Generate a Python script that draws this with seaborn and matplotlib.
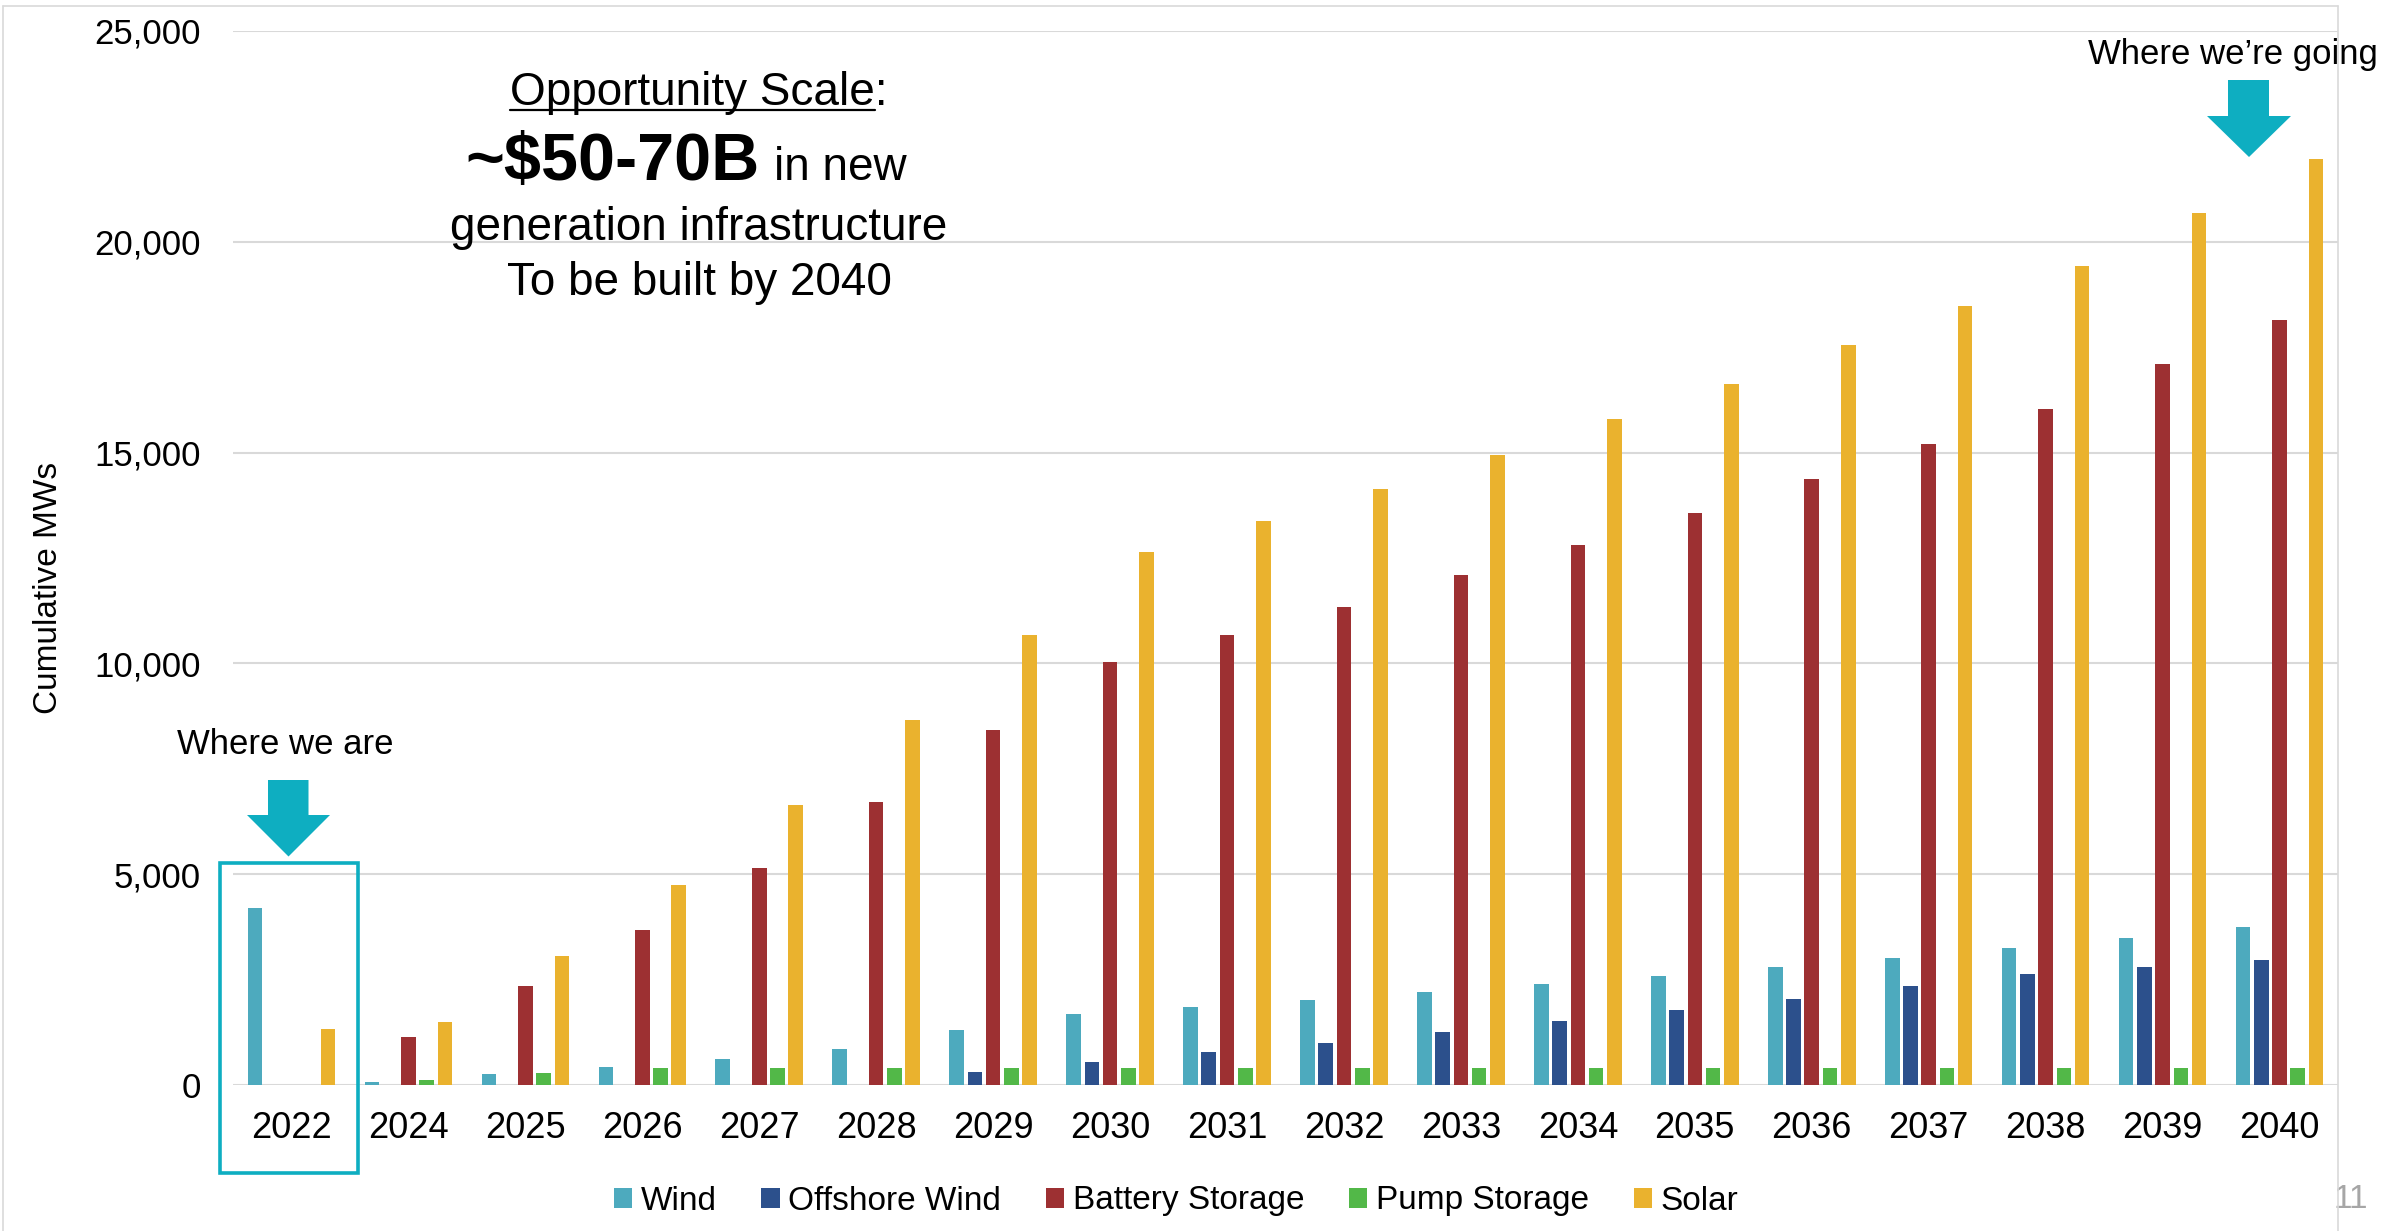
import numpy as np
import pandas as pd
import matplotlib
matplotlib.use("Agg")
import matplotlib.pyplot as plt
from matplotlib.patches import Polygon, Rectangle
from matplotlib.lines import Line2D
import seaborn as sns

# ---- data (cumulative MW by year) ----
years = ["2022", "2024", "2025", "2026", "2027", "2028", "2029", "2030", "2031",
         "2032", "2033", "2034", "2035", "2036", "2037", "2038", "2039", "2040"]
wind = [4210, 80, 255, 420, 610, 865, 1295, 1675, 1840, 2005, 2205, 2395, 2585,
        2800, 3010, 3240, 3495, 3750]
offshore_wind = [0, 0, 0, 0, 0, 0, 300, 555, 785, 990, 1250, 1520, 1775, 2050,
                 2345, 2625, 2800, 2970]
battery_storage = [0, 1140, 2355, 3670, 5145, 6705, 8420, 10035, 10680, 11345,
                   12100, 12815, 13560, 14380, 15195, 16030, 17095, 18145]
pump_storage = [0, 125, 280, 405, 405, 405, 405, 405, 405, 405, 405, 405, 405,
                405, 405, 405, 405, 405]
solar = [1335, 1505, 3050, 4750, 6640, 8650, 10680, 12645, 13385, 14130, 14945,
         15800, 16625, 17560, 18485, 19420, 20690, 21960]

series_names = ["Wind", "Offshore Wind", "Battery Storage", "Pump Storage", "Solar"]
series_colors = ["#4DAABE", "#2C508C", "#9D3032", "#52B848", "#EAB22E"]
y_ticks = [0, 5000, 10000, 15000, 20000, 25000]

ACCENT = "#0EAEC1"
W, H = 2392, 1231

sns.set_theme(style="white")
plt.rcParams["font.family"] = ["Liberation Sans", "DejaVu Sans"]
plt.rcParams["text.color"] = "black"

df = pd.DataFrame({
    "Year": years * len(series_names),
    "MW": wind + offshore_wind + battery_storage + pump_storage + solar,
    "Type": np.repeat(series_names, len(years)),
})


def fx(px):
    return px / W


def fy(py):
    return 1 - py / H


fig = plt.figure(figsize=(W / 100, H / 100), dpi=100)
ax = fig.add_axes([fx(233), fy(1085), (2338 - 233) / W, (1085 - 31) / H])

sns.barplot(data=df, x="Year", y="MW", hue="Type", order=years,
            hue_order=series_names, palette=dict(zip(series_names, series_colors)),
            width=0.78, gap=0.2, errorbar=None, saturation=1, linewidth=0, ax=ax)

ax.set_xlim(-0.5, len(years) - 0.5)
ax.set_ylim(0, 25000)
ax.set_yticks(y_ticks)
ax.set_yticklabels([f"{v:,}" for v in y_ticks])
ax.yaxis.grid(True, color="#D9D9D9", linewidth=1.5)
ax.set_axisbelow(True)
for s in ax.spines.values():
    s.set_visible(False)
ax.set_xlabel("")
ax.set_ylabel("")
ax.tick_params(axis="y", labelsize=25, length=0, pad=23, labelcolor="black")
ax.tick_params(axis="x", labelsize=26, length=0, pad=19, labelcolor="black")

handles, labels = ax.get_legend_handles_labels()
ax.get_legend().remove()
fig.legend(handles, labels, loc="center", bbox_to_anchor=(fx(1176), fy(1201)),
           ncol=5, frameon=False, fontsize=24, handlelength=0.55,
           handleheight=0.55, handletextpad=0.25, columnspacing=1.35,
           labelcolor="black")

fig.text(fx(49), fy(588), "Cumulative MWs", rotation=90, ha="center",
         va="center", fontsize=24)

# headline block
cx = 699
t1 = fig.text(fx(cx), fy(105), "Opportunity Scale:", ha="center", va="baseline",
              fontsize=33)
fig.text(fx(760), fy(180), "~$50-70B", ha="right", va="baseline", fontsize=48,
         fontweight="bold")
fig.text(fx(774), fy(180), "in new", ha="left", va="baseline", fontsize=33)
fig.text(fx(cx), fy(240), "generation infrastructure", ha="center",
         va="baseline", fontsize=33)
fig.text(fx(cx), fy(295), "To be built by 2040", ha="center", va="baseline",
         fontsize=33)

# underline the "Opportunity Scale" part of the first line
fig.canvas.draw()
renderer = fig.canvas.get_renderer()
bb = t1.get_window_extent(renderer)
colon = fig.text(0, 0, ":", fontsize=33)
cw = colon.get_window_extent(renderer).width
colon.remove()
fig.add_artist(Line2D([fx(bb.x0), fx(bb.x1 - cw)], [fy(110), fy(110)],
                      transform=fig.transFigure, color="black", linewidth=1.6))

# callouts
fig.text(fx(177), fy(754), "Where we are", ha="left", va="baseline", fontsize=25)
fig.text(fx(2088), fy(64), "Where we\u2019re going", ha="left", va="baseline",
         fontsize=25)


def down_arrow(x0, x1, hx0, hx1, ytop, yhead, ytip):
    pts = [(x0, ytop), (x1, ytop), (x1, yhead), (hx1, yhead),
           ((hx0 + hx1) / 2, ytip), (hx0, yhead), (x0, yhead)]
    pts = [(fx(a), fy(b)) for a, b in pts]
    fig.add_artist(Polygon(pts, closed=True, transform=fig.transFigure,
                           facecolor=ACCENT, edgecolor="none", zorder=5))


down_arrow(268, 308.5, 247, 330, 780, 815, 856.5)
down_arrow(2228, 2269, 2207, 2291, 80, 116, 157)

fig.add_artist(Rectangle((fx(220), fy(1173)), (358 - 220) / W, (1173 - 863) / H,
                         transform=fig.transFigure, fill=False,
                         edgecolor=ACCENT, linewidth=2.6, zorder=5))

# slide frame and page number
fig.text(fx(2333), fy(1200), "11", ha="left", va="center", fontsize=24,
         color="#A6A6A6")
frame = dict(transform=fig.transFigure, color="#D9D9D9", linewidth=1.2, zorder=6)
fig.add_artist(Line2D([fx(3), fx(2338)], [fy(6), fy(6)], **frame))
fig.add_artist(Line2D([fx(3), fx(3)], [fy(6), fy(1231)], **frame))
fig.add_artist(Line2D([fx(2338), fx(2338)], [fy(6), fy(1231)], **frame))

fig.savefig("out.png", dpi=100, facecolor="white")
